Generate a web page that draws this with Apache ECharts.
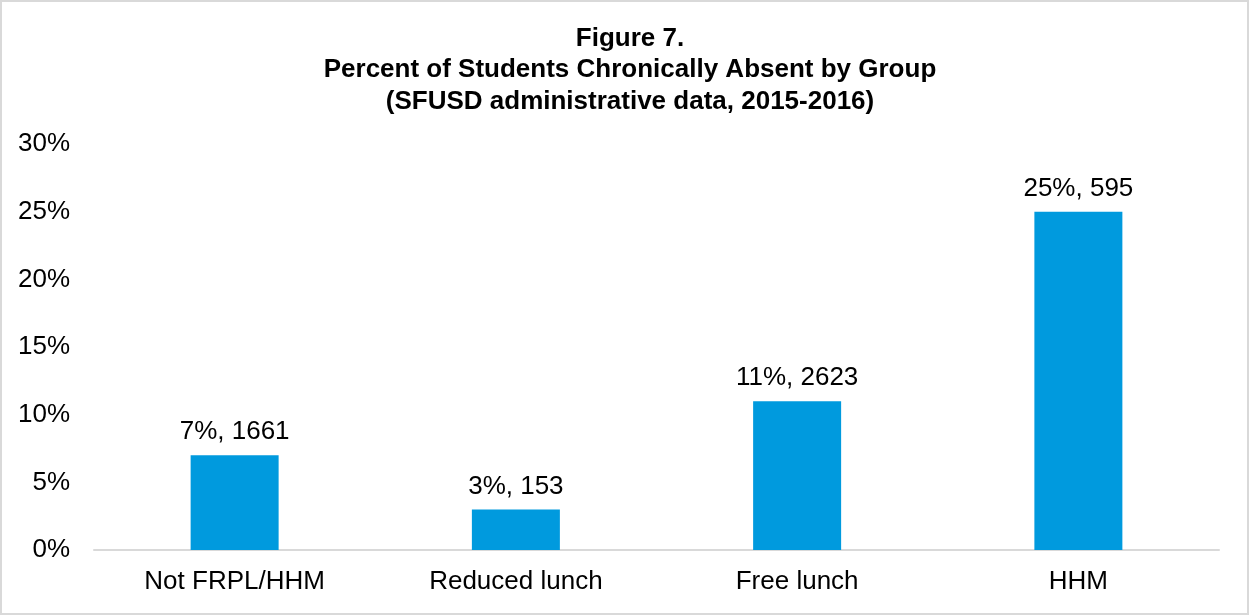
<!DOCTYPE html>
<html>
<head>
<meta charset="utf-8">
<script src="https://cdn.jsdelivr.net/npm/echarts@6/dist/echarts.min.js"></script>
<style>
  html, body { margin: 0; padding: 0; background: #fff; }
  #chart { width: 1249px; height: 615px; }
</style>
</head>
<body>
<div id="chart"></div>
<script>
// 数据
const categories = ['Not FRPL/HHM', 'Reduced lunch', 'Free lunch', 'HHM']
const percents = [7, 3, 11, 25]
const counts = [1661, 153, 2623, 595]
const yTicks = [0, 5, 10, 15, 20, 25, 30]

const chart = echarts.init(document.getElementById('chart'))

const font = 'Liberation Sans, Arial, sans-serif'

const option = {
  backgroundColor: '#fff',
  animation: false,
  title: {
    text: 'Figure 7.\nPercent of Students Chronically Absent by Group\n(SFUSD administrative data, 2015-2016)',
    left: 625,
    top: 18,
    textAlign: 'center',
    textStyle: {
      fontFamily: font,
      fontSize: 26,
      fontWeight: 'bold',
      color: '#000',
      lineHeight: 31.5
    }
  },
  graphic: [
    {
      type: 'rect',
      shape: {x: 1, y: 1, width: 1247, height: 613},
      style: {fill: 'none', stroke: '#d9d9d9', lineWidth: 2},
      silent: true
    }
  ],
  grid: {
    left: 94,
    right: 30,
    top: 144,
    bottom: 65
  },
  xAxis: {
    type: 'category',
    data: categories,
    axisLine: {lineStyle: {color: '#d9d9d9', width: 2}},
    axisTick: {show: false},
    axisLabel: {
      margin: 19,
      fontFamily: font,
      fontSize: 26,
      color: '#000'
    }
  },
  yAxis: {
    type: 'value',
    min: yTicks[0],
    max: yTicks[yTicks.length - 1],
    interval: 5,
    splitLine: {show: false},
    axisLine: {show: false},
    axisTick: {show: false},
    axisLabel: {
      margin: 24,
      formatter: '{value}%',
      fontFamily: font,
      fontSize: 26,
      color: '#000'
    }
  },
  series: [
    {
      type: 'bar',
      data: percents,
      barWidth: 88,
      itemStyle: {color: '#009ADE'},
      label: {
        show: true,
        position: 'top',
        distance: 10,
        formatter: p => p.value + '%, ' + counts[p.dataIndex],
        fontFamily: font,
        fontSize: 26,
        color: '#000'
      }
    }
  ]
}

chart.setOption(option)
</script>
</body>
</html>
